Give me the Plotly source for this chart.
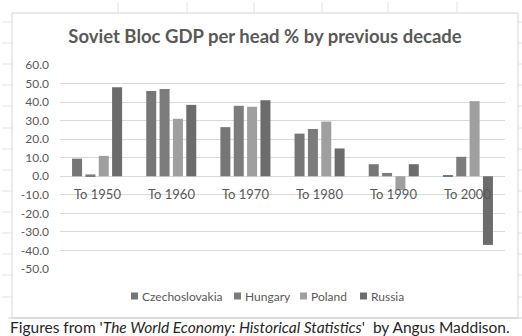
import plotly.graph_objects as go

# Decade-on-decade change in GDP per head (%)
periods = ["To 1950", "To 1960", "To 1970", "To 1980", "To 1990", "To 2000"]
czechoslovakia = [9.5, 46.0, 26.5, 23.0, 6.5, 0.5]
hungary = [1.0, 47.0, 38.0, 25.5, 1.8, 10.5]
poland = [11.0, 31.0, 37.5, 29.5, -7.5, 40.5]
russia = [48.0, 38.5, 41.0, 15.0, 6.5, -37.0]
y_ticks = [60, 50, 40, 30, 20, 10, 0, -10, -20, -30, -40, -50]

series = [
    ("Czechoslovakia", czechoslovakia, "#767676"),
    ("Hungary", hungary, "#7c7c7c"),
    ("Poland", poland, "#9f9f9f"),
    ("Russia", russia, "#6c6c6c"),
]

FONT = "Lato, 'Open Sans', sans-serif"
TXT = "#595959"

fig = go.Figure()
for name, vals, col in series:
    fig.add_trace(go.Bar(x=periods, y=vals, name=name, marker_color=col,
                         marker_line_width=0, showlegend=False))

# plot area in pixels: x 60..505, y 65..269
W, H = 522, 336
L, R, T, B = 60, 17, 65, 67
pw, ph = W - L - R, H - T - B


def px(x):
    return (x - L) / pw


def py(y):
    return (H - B - y) / ph


shapes = []
# chart frame
shapes.append(dict(type="rect", xref="paper", yref="paper",
                   x0=px(12), x1=px(518), y0=py(318), y1=py(13),
                   line=dict(color="#d4d4d4", width=1), layer="below"))
# worksheet cell lines around the chart
for ry in [22, 43, 64, 85, 106, 128, 149, 170, 191, 212, 233, 254, 275, 297]:
    shapes.append(dict(type="line", xref="paper", yref="paper",
                       x0=px(2), x1=px(12), y0=py(ry), y1=py(ry),
                       line=dict(color="#e2e2e2", width=1)))
    shapes.append(dict(type="line", xref="paper", yref="paper",
                       x0=px(518), x1=px(522), y0=py(ry), y1=py(ry),
                       line=dict(color="#e2e2e2", width=1)))
for cx in [118, 187, 254, 322, 388, 457]:
    shapes.append(dict(type="line", xref="paper", yref="paper",
                       x0=px(cx), x1=px(cx), y0=py(2), y1=py(13),
                       line=dict(color="#e2e2e2", width=1)))
shapes.append(dict(type="line", xref="paper", yref="paper",
                   x0=px(8), x1=px(522), y0=py(318), y1=py(318),
                   line=dict(color="#cfcfcf", width=1)))

annotations = []
# category labels sit just below the zero line
for p in periods:
    annotations.append(dict(x=p, y=0, xref="x", yref="y", text=p,
                            showarrow=False, yanchor="middle", yshift=-18,
                            font=dict(family=FONT, size=13, color=TXT)))

# compact legend: small swatch followed by the series name
legend_x = [131, 234, 300, 360]
legend_y = 296
for (name, _vals, col), lx in zip(series, legend_x):
    shapes.append(dict(type="rect", xref="paper", yref="paper",
                       x0=px(lx), x1=px(lx + 7), y0=py(legend_y + 3.5),
                       y1=py(legend_y - 3.5), fillcolor=col,
                       line=dict(width=0)))
    annotations.append(dict(x=px(lx + 9), y=py(legend_y), xref="paper",
                            yref="paper", text=name, showarrow=False,
                            xanchor="left", yanchor="middle",
                            font=dict(family=FONT, size=12, color=TXT)))

annotations.append(dict(
    x=px(260), y=py(327), xref="paper", yref="paper", showarrow=False,
    xanchor="center", yanchor="middle",
    text="Figures from '<i>The World Economy: Historical Statistics</i>'  by Angus Maddison.",
    font=dict(family=FONT, size=15.5, color="#262626")))

fig.update_layout(
    width=W, height=H,
    margin=dict(l=L, r=R, t=T, b=B),
    paper_bgcolor="white", plot_bgcolor="white",
    barmode="group", bargap=0.28, bargroupgap=0.25,
    title=dict(text="<b>Soviet Bloc GDP per head % by previous decade</b>",
               x=265 / W, xanchor="center", y=1 - 37 / H, yanchor="middle",
               xref="container", yref="container",
               font=dict(family=FONT, size=18.5, color=TXT)),
    shapes=shapes,
    annotations=annotations,
    showlegend=False,
)
fig.update_xaxes(showticklabels=False, showgrid=False, showline=False,
                 zeroline=False)
fig.update_yaxes(range=[-50, 60], tickvals=y_ticks,
                 ticktext=[f"{v:.1f}" for v in y_ticks],
                 showgrid=True, gridcolor="#d9d9d9", gridwidth=1,
                 zeroline=True, zerolinecolor="#d9d9d9", zerolinewidth=1,
                 showline=False, ticks="", ticklabelstandoff=10,
                 tickfont=dict(family=FONT, size=12, color=TXT))

fig.write_html("out.html")
